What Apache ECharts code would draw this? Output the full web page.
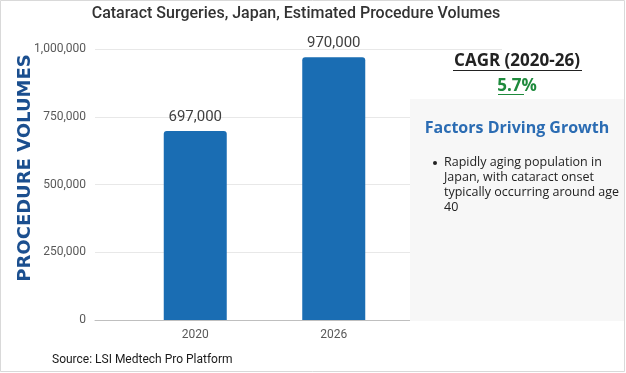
<!DOCTYPE html>
<html><head><meta charset="utf-8">
<script src="https://cdn.jsdelivr.net/npm/echarts@6/dist/echarts.min.js"></script>
<style>html,body{margin:0;padding:0;background:#fff}#c{width:626px;height:373px}</style>
</head><body><div id="c"></div>
<script>
const categories = ['2020', '2026'];
const volumes = [697000, 970000];
const yTicks = [0, 250000, 500000, 750000, 1000000];
const titleText = 'Cataract Surgeries, Japan, Estimated Procedure Volumes';
const yAxisTitle = 'PROCEDURE VOLUMES';
const cagrLabel = 'CAGR (2020-26)';
const cagrValue = '5.7%';
const factorsTitle = 'Factors Driving Growth';
const factorsLines = ['Rapidly aging population in', 'Japan, with cataract onset', 'typically occurring around age', '40'];
const sourceText = 'Source: LSI Medtech Pro Platform';

const fmt = v => v.toLocaleString('en-US');
const chart = echarts.init(document.getElementById('c'), null, {renderer: 'canvas'});
const F = 'Roboto, "Noto Sans", sans-serif';
const O = '"Open Sans", "Noto Sans", sans-serif';
const graphics = [
  {type: 'rect', shape: {x: 0.5, y: 0.5, width: 624, height: 371}, style: {fill: 'none', stroke: '#d9d9d9', lineWidth: 1}, z: 200},
  {type: 'text', x: 296, y: 14, style: {text: titleText, font: '500 16px ' + F, fill: '#333333', textAlign: 'center', textVerticalAlign: 'middle'}, z: 200},
  {type: 'text', x: 25, y: 168, rotation: Math.PI / 2, style: {text: yAxisTitle, font: 'bold 18px "DejaVu Sans", sans-serif', fill: '#1b4f8f', textAlign: 'center', textVerticalAlign: 'middle'}, z: 200},
  {type: 'text', x: 52, y: 360, style: {text: sourceText, font: '12px ' + F, fill: '#1a1a1a', textAlign: 'left', textVerticalAlign: 'middle'}, z: 200},
  {type: 'text', x: 517, y: 61, style: {text: cagrLabel, font: 'bold 17px ' + O, fill: '#222222', textAlign: 'center', textVerticalAlign: 'middle'}, z: 200},
  {type: 'line', shape: {x1: 453, y1: 70.5, x2: 582, y2: 70.5}, style: {stroke: '#222222', lineWidth: 1}, z: 200},
  {type: 'text', x: 517, y: 86, style: {text: cagrValue, font: 'bold 17px ' + O, fill: '#1e8a3c', textAlign: 'center', textVerticalAlign: 'middle'}, z: 200},
  {type: 'line', shape: {x1: 498, y1: 94.5, x2: 524, y2: 94.5}, style: {stroke: '#1e8a3c', lineWidth: 1}, z: 200},
  {type: 'rect', shape: {x: 410, y: 99, width: 214, height: 222}, style: {fill: '#f7f7f7'}, z: 150},
  {type: 'text', x: 517, y: 128, style: {text: factorsTitle, font: 'bold 16px ' + O, fill: '#2b6cb3', textAlign: 'center', textVerticalAlign: 'middle'}, z: 200},
  {type: 'circle', shape: {cx: 435, cy: 163, r: 2}, style: {fill: '#222222'}, z: 200}
];
factorsLines.forEach((t, i) => {
  graphics.push({type: 'text', x: 444, y: 162 + i * 15.3, style: {text: t, font: '12.5px ' + O, fill: '#222222', textAlign: 'left', textVerticalAlign: 'middle'}, z: 200});
});

chart.setOption({
  animation: false,
  backgroundColor: '#ffffff',
  grid: [
    {left: 95, right: 124, top: 49, bottom: 53},
    {left: 126, right: 223, top: 49, bottom: 53}
  ],
  xAxis: [
    {gridIndex: 0, type: 'category', data: [''], axisLine: {lineStyle: {color: '#bfbfbf', width: 1}}, axisTick: {show: false}, axisLabel: {show: false}},
    {gridIndex: 1, type: 'category', data: categories, axisLine: {show: false}, axisTick: {show: false},
     axisLabel: {color: '#595959', fontSize: 12, fontFamily: F, margin: 9}}
  ],
  yAxis: [
    {gridIndex: 0, type: 'value', min: yTicks[0], max: yTicks[yTicks.length - 1], interval: yTicks[1] - yTicks[0],
     axisLabel: {color: '#595959', fontSize: 12, fontFamily: F, margin: 9, formatter: v => fmt(v)},
     splitLine: {lineStyle: {color: '#e8e8e8', width: 1}}, axisLine: {show: false}, axisTick: {show: false}},
    {gridIndex: 1, type: 'value', min: yTicks[0], max: yTicks[yTicks.length - 1], show: false, splitLine: {show: false}}
  ],
  series: [{
    type: 'bar', xAxisIndex: 1, yAxisIndex: 1, data: volumes, barWidth: 63,
    itemStyle: {color: '#1a6db3', borderRadius: [3, 3, 0, 0]},
    label: {show: true, position: 'top', distance: 6, color: '#404040', fontSize: 15, fontFamily: F, formatter: p => fmt(p.value)}
  }],
  graphic: graphics
});
</script></body></html>
